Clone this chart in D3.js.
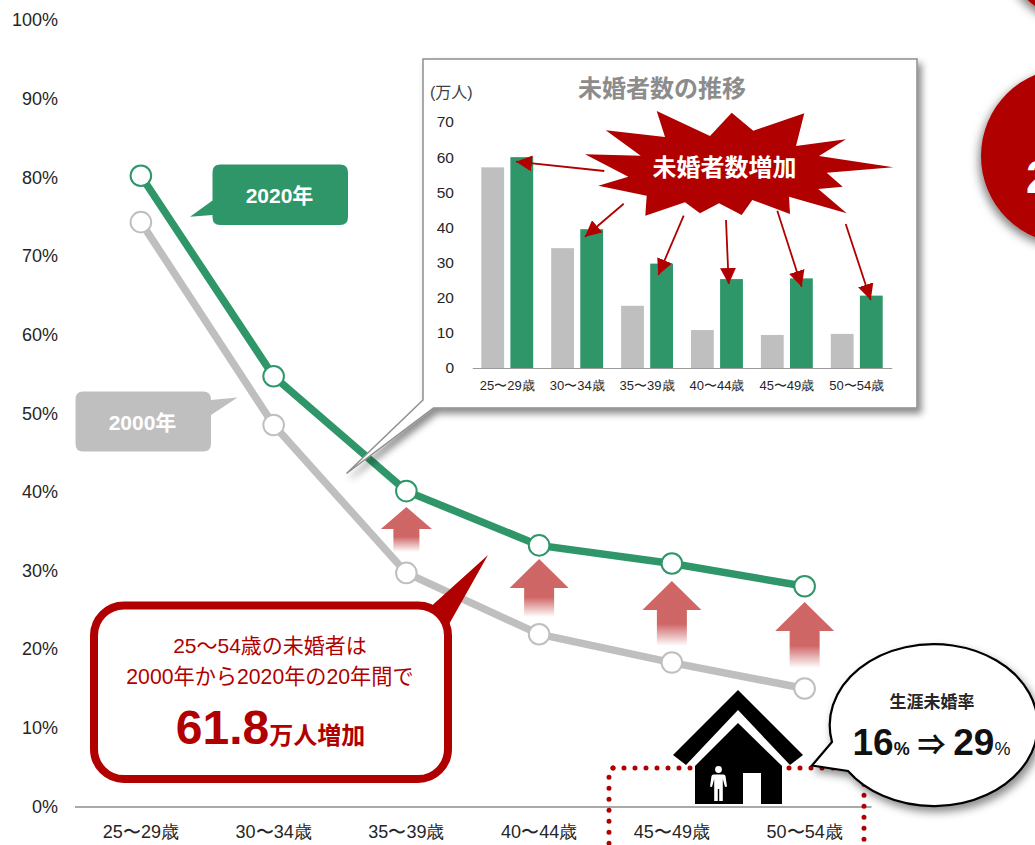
<!DOCTYPE html>
<html lang="ja">
<head>
<meta charset="utf-8">
<title>未婚率と未婚者数の推移</title>
<script src="https://cdn.jsdelivr.net/npm/d3@7/dist/d3.min.js"></script>
<style>
  html, body { margin: 0; padding: 0; background: #fff; overflow: hidden; }
  svg { display: block; font-family: "Liberation Sans", "Noto Sans CJK JP", sans-serif; }
</style>
</head>
<body>
<svg id="chart" width="1035" height="845"></svg>
<script>
// Age bands shared by the line chart and the inset bars
const ageBands = ["25〜29歳", "30〜34歳", "35〜39歳", "40〜44歳", "45〜49歳", "50〜54歳"];

// Unmarried rate (%) per age band
const rate2000 = [74.3, 48.5, 29.7, 21.9, 18.3, 15.0];
const rate2020 = [80.2, 54.7, 40.1, 33.2, 30.9, 28.0];

// Unmarried population (10,000 people) per age band
const count2000 = [57.1, 34.1, 17.7, 10.8, 9.4, 9.7];
const count2020 = [60.0, 39.5, 29.7, 25.3, 25.5, 20.6];

const rateTicks = [0, 10, 20, 30, 40, 50, 60, 70, 80, 90, 100];
const countTicks = [0, 10, 20, 30, 40, 50, 60, 70];

const GREEN = "#2E9668", GRAY = "#BFBFBF", RED = "#B00000", INK = "#262626";

const svg = d3.select("#chart");
const defs = svg.append("defs");

function shadow(id, dx, dy, blur, alpha) {
  const f = defs.append("filter").attr("id", id)
    .attr("x", "-30%").attr("y", "-30%").attr("width", "170%").attr("height", "170%");
  f.append("feDropShadow").attr("dx", dx).attr("dy", dy).attr("stdDeviation", blur)
    .attr("flood-color", "#000").attr("flood-opacity", alpha);
}
shadow("panelShadow", 4, 5, 3.5, 0.45);
shadow("bubbleShadow", 3, 5, 4, 0.45);
shadow("discShadow", -2, 4, 5, 0.5);

// Rise arrows fade out towards their tails
const fade = defs.append("linearGradient").attr("id", "riseFade")
  .attr("x1", 0).attr("y1", 0).attr("x2", 0).attr("y2", 1);
fade.append("stop").attr("offset", "0.66").attr("stop-color", RED).attr("stop-opacity", 0.6);
fade.append("stop").attr("offset", "1").attr("stop-color", RED).attr("stop-opacity", 0);

defs.append("marker").attr("id", "insetHead")
  .attr("viewBox", "0 0 10 10").attr("refX", 10).attr("refY", 5)
  .attr("markerUnits", "userSpaceOnUse").attr("markerWidth", 16).attr("markerHeight", 16)
  .attr("orient", "auto")
  .append("path").attr("d", "M0,0L10,5L0,10Z").attr("fill", RED);

const outline = d3.line();

/* ---------- Main line chart ---------- */
const x = d3.scaleBand().domain(ageBands).range([74.5, 871]);
const y = d3.scaleLinear().domain([0, 100]).range([806.5, 20]);
const cx = d => x(d) + x.bandwidth() / 2;

const yAxis = svg.append("g").attr("transform", "translate(58,0)")
  .call(d3.axisLeft(y).tickValues(rateTicks).tickFormat(d => d + "%").tickSize(0).tickPadding(0));
yAxis.select(".domain").remove();
yAxis.selectAll("text").attr("font-size", 18).attr("fill", INK).style("font-family", "inherit");

const xAxis = svg.append("g").attr("transform", `translate(0,${y(0)})`)
  .call(d3.axisBottom(x).tickSizeOuter(0).tickSize(0).tickPadding(19));
xAxis.select(".domain").attr("stroke", "#8C8C8C").attr("stroke-width", 1.6);
xAxis.selectAll("text").attr("font-size", 18).attr("fill", INK).style("font-family", "inherit");

// Dotted frame pointing out of the plot, behind the house
const dotted = svg.append("g").attr("fill", "none").attr("stroke", RED)
  .attr("stroke-width", 5).attr("stroke-linecap", "round").attr("stroke-dasharray", "0 11");
dotted.append("path").attr("d", "M613,768H856Q864,768 864,776V900");
dotted.append("path").attr("d", "M613,768Q609,768 609,775V900");

function drawSeries(values, colour, width) {
  const pts = ageBands.map((a, i) => [cx(a), y(values[i])]);
  svg.append("path").attr("d", d3.line()(pts)).attr("fill", "none")
    .attr("stroke", colour).attr("stroke-width", width);
  svg.append("g").selectAll("circle").data(pts).join("circle")
    .attr("cx", d => d[0]).attr("cy", d => d[1]).attr("r", 10.3)
    .attr("fill", "#fff").attr("stroke", colour).attr("stroke-width", 2);
}
drawSeries(rate2000, GRAY, 7.5);
drawSeries(rate2020, GREEN, 7.5);

// Upward arrows between the two lines
const riseArrows = [
  { tip: 507, base: 529, bottom: 552, half: 25.5, stem: 13, band: 2 },
  { tip: 559, base: 588, bottom: 617, half: 29.5, stem: 15, band: 3 },
  { tip: 581, base: 610, bottom: 646, half: 29.5, stem: 15, band: 4 },
  { tip: 602, base: 631, bottom: 668, half: 29.5, stem: 15, band: 5 }
];
svg.append("g").selectAll("path").data(riseArrows).join("path")
  .attr("fill", "url(#riseFade)")
  .attr("d", a => {
    const c = cx(ageBands[a.band]);
    return outline([[c, a.tip], [c + a.half, a.base], [c + a.stem, a.base], [c + a.stem, a.bottom],
      [c - a.stem, a.bottom], [c - a.stem, a.base], [c - a.half, a.base]]) + "Z";
  });

/* ---------- Series labels ---------- */
function seriesTag(shape, colour, text, tx, ty) {
  svg.append("path").attr("d", shape).attr("fill", colour);
  svg.append("text").attr("x", tx).attr("y", ty).attr("text-anchor", "middle")
    .attr("dominant-baseline", "central").attr("font-size", 21).attr("font-weight", 700)
    .attr("fill", "#fff").text(text);
}
seriesTag("M220,164.5H340Q348,164.5 348,172.5V217Q348,225 340,225H220Q212.5,225 212.5,217V215L190,216.7L212.5,200.5V172.5Q212.5,164.5 220,164.5Z",
  GREEN, "2020年", 279.5, 195);
seriesTag("M83,391.5H203Q211,391.5 211,399.5V400L237.5,397.5L211,415V443.5Q211,451.5 203,451.5H83Q75.5,451.5 75.5,443.5V399.5Q75.5,391.5 83,391.5Z",
  GRAY, "2000年", 142.5, 422.5);

/* ---------- Summary callout ---------- */
svg.append("path")
  .attr("d", "M124,605.5H432L488,555L448,626V749Q448,779 418,779H124Q94,779 94,749V635.5Q94,605.5 124,605.5Z")
  .attr("fill", RED);
svg.append("rect").attr("x", 94).attr("y", 605.5).attr("width", 354).attr("height", 173.5).attr("rx", 30)
  .attr("fill", "#fff").attr("stroke", RED).attr("stroke-width", 8);

const summary = svg.append("g").attr("text-anchor", "middle").attr("fill", RED);
summary.append("text").attr("x", 270).attr("y", 653).attr("font-size", 21).text("25〜54歳の未婚者は");
summary.append("text").attr("x", 270).attr("y", 684).attr("font-size", 21.2).text("2000年から2020年の20年間で");
const headline = summary.append("text").attr("x", 270.5).attr("y", 744).attr("font-weight", 700);
headline.append("tspan").attr("font-size", 48).text("61.8");
headline.append("tspan").attr("font-size", 24).text("万人増加");

/* ---------- House icon ---------- */
const house = svg.append("g");
house.append("path").attr("fill", "#000")
  .attr("d", outline([[738, 690], [803, 755], [790, 765], [738, 710], [686, 765], [673, 755]]) + "Z");
house.append("path").attr("fill", "#000")
  .attr("d", outline([[738, 723], [782, 766], [782, 804], [695, 804], [695, 766]]) + "Z");
house.append("rect").attr("x", 743).attr("y", 773).attr("width", 18).attr("height", 31).attr("fill", "#fff");
house.append("circle").attr("cx", 718.5).attr("cy", 769.5).attr("r", 3.4).attr("fill", "#fff");
house.append("path").attr("fill", "#fff")
  .attr("d", "M713.5,774.5H723.5Q725,774.5 725.5,776L727,786.5L725,787L722.8,779V801H719.2V789H717.8V801H714.2V779L712,787L710,786.5L711.5,776Q712,774.5 713.5,774.5Z");

/* ---------- Lifetime unmarried rate bubble ---------- */
const bubbleCx = 932, bubbleCy = 724, bubbleRx = 104, bubbleRy = 81;
svg.append("path")
  .attr("d", `M832,742A${bubbleRx},${bubbleRy} 0 1 1 848,771L812,765.5Z`)
  .attr("fill", "#fff").attr("stroke", "#000").attr("stroke-width", 2.2)
  .attr("stroke-linejoin", "miter").attr("filter", "url(#bubbleShadow)");
svg.append("text").attr("x", bubbleCx).attr("y", 708).attr("text-anchor", "middle")
  .attr("font-size", 17).attr("font-weight", 700).attr("fill", INK).text("生涯未婚率");
const rates = svg.append("text").attr("x", 931.5).attr("y", 755).attr("text-anchor", "middle")
  .attr("font-weight", 700).attr("fill", "#111");
rates.append("tspan").attr("font-size", 37).text("16");
rates.append("tspan").attr("font-size", 18).text("%");
rates.append("tspan").attr("font-size", 28).text(" ⇒ ");
rates.append("tspan").attr("font-size", 37).text("29");
rates.append("tspan").attr("font-size", 18).attr("font-weight", 400).text("%");

/* ---------- Red discs running off the right edge ---------- */
svg.append("circle").attr("cx", 1075).attr("cy", -50).attr("r", 69).attr("fill", RED)
  .attr("filter", "url(#discShadow)");
svg.append("circle").attr("cx", 1069).attr("cy", 156).attr("r", 88).attr("fill", RED)
  .attr("filter", "url(#discShadow)");
svg.append("text").attr("x", 1026).attr("y", 193).attr("font-size", 46).attr("font-weight", 700)
  .attr("fill", "#fff").text("2");

/* ---------- Inset panel: unmarried population ---------- */
svg.append("path")
  .attr("d", outline([[423, 59], [917, 59], [917, 408], [433.5, 408], [346.5, 473.5], [423, 400]]) + "Z")
  .attr("fill", "#fff").attr("stroke", "#8F8F8F").attr("stroke-width", 1.5)
  .attr("filter", "url(#panelShadow)");

svg.append("text").attr("x", 662).attr("y", 97).attr("text-anchor", "middle")
  .attr("font-size", 24).attr("font-weight", 700).attr("fill", "#8C8C8C").text("未婚者数の推移");
svg.append("text").attr("x", 430).attr("y", 97.5).attr("font-size", 16).attr("fill", "#404040").text("(万人)");

const xi = d3.scaleBand().domain(ageBands).range([472.3, 891.7]);
const xiSeries = d3.scaleBand().domain(["2000", "2020"]).range([9, 60.9]).paddingInner(0.216);
const yi = d3.scaleLinear().domain([0, 70]).range([368, 122]);

const yiAxis = svg.append("g").attr("transform", "translate(454,0)")
  .call(d3.axisLeft(yi).tickValues(countTicks).tickSize(0).tickPadding(0));
yiAxis.select(".domain").remove();
yiAxis.selectAll("text").attr("font-size", 15.5).attr("fill", INK).style("font-family", "inherit");

function drawBars(values, key, colour) {
  svg.append("g").selectAll("rect").data(values).join("rect")
    .attr("x", (d, i) => xi(ageBands[i]) + xiSeries(key))
    .attr("y", d => yi(d))
    .attr("width", xiSeries.bandwidth())
    .attr("height", d => yi(0) - yi(d))
    .attr("fill", colour);
}
drawBars(count2000, "2000", GRAY);
drawBars(count2020, "2020", GREEN);

const xiAxis = svg.append("g").attr("transform", `translate(0,${yi(0)})`)
  .call(d3.axisBottom(xi).tickSizeOuter(0).tickSize(0).tickPadding(13));
xiAxis.select(".domain").attr("stroke", "#9A9A9A").attr("stroke-width", 1.2);
xiAxis.selectAll("text").attr("font-size", 13).attr("fill", INK).style("font-family", "inherit");

// Starburst with its label
const burst = [[656.7,111],[710,136],[731.7,112.7],[753.3,130.7],[804.3,113.3],[796,146],[846,139.3],[819,156],
  [893.3,167.3],[826.7,172.7],[842.7,186.7],[818.3,189],[846.7,213.3],[789,196.7],[790,214],[752.3,200],
  [741.7,215],[719,203.3],[700,213.3],[685,202.3],[645.3,215.7],[646.7,195.7],[598.3,185.7],[628.3,176.7],
  [585,154.3],[640.7,155.7],[605.7,130.3],[665,137]];
svg.append("path").attr("d", outline(burst) + "Z").attr("fill", RED);
svg.append("text").attr("x", 724.5).attr("y", 176).attr("text-anchor", "middle")
  .attr("font-size", 24).attr("font-weight", 700).attr("fill", "#fff").text("未婚者数増加");

// Leaders from the burst to the top of each 2020 bar
const leaders = [
  [[604.3, 171], [516, 161.7]],
  [[623.7, 203.7], [585, 236.7]],
  [[683.7, 215.7], [658.3, 275]],
  [[726, 220], [728.7, 284]],
  [[777.3, 210.7], [801.7, 286.7]],
  [[845.7, 224], [870.7, 300]]
];
svg.append("g").selectAll("path").data(leaders).join("path")
  .attr("d", d => d3.line()(d)).attr("fill", "none").attr("stroke", RED).attr("stroke-width", 1.8)
  .attr("marker-end", "url(#insetHead)");
</script>
</body>
</html>
